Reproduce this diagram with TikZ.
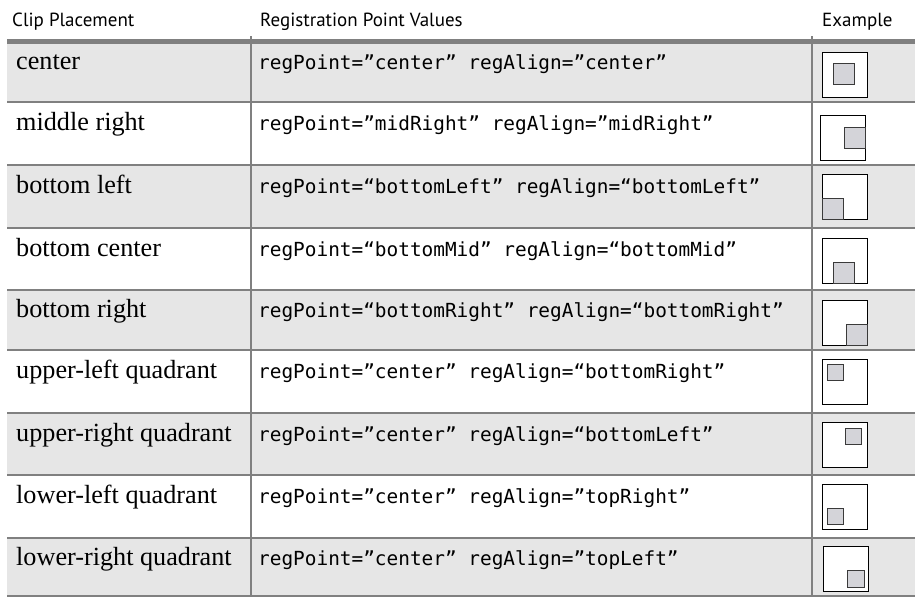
\documentclass[tikz,border=0pt]{standalone}
\usepackage{fontspec}
\newfontfamily\headfont{PT Sans}
\newfontfamily\placefont{Liberation Serif}
\newfontfamily\codefont{DejaVu Sans Mono}
\definecolor{rowgray}{HTML}{E6E6E6}
\definecolor{rulegray}{HTML}{808080}
\definecolor{innerfill}{HTML}{D4D4D9}
\definecolor{innerline}{HTML}{3A3A3A}
\tikzset{
  rowfill/.style={fill=rowgray, draw=none},
  rule/.style={draw=rulegray, line width=2pt},
  toprule/.style={draw=rulegray, line width=4.6pt},
  headtext/.style={anchor=base west, inner sep=0, font=\headfont\fontsize{19}{22}\selectfont},
  placetext/.style={anchor=base west, inner sep=0, font=\placefont\fontsize{26.2}{30}\selectfont},
  codetext/.style={anchor=base west, inner sep=0, font=\codefont\fontsize{19.4}{23}\selectfont},
  outerbox/.style={anchor=north west, draw=black, line width=1.1pt, fill=white,
    inner sep=0, minimum width=45pt, minimum height=45pt},
  innerbox/.style={anchor=north west, draw=innerline, line width=1.2pt, fill=innerfill,
    inner sep=0, minimum width=#1, minimum height=#1},
  innerbox/.default=21pt
}
\begin{document}
\begin{tikzpicture}[x=1pt, y=-1pt]
  \useasboundingbox (0,0) rectangle (915,597);

  % shaded rows
  \foreach \t/\b in {44/102, 165/228, 290/350, 413/475, 538/596}
    \fill[rowfill] (7,\t) rectangle (915,\b);

  % column titles
  \node[headtext] (h1) at (12,27) {Clip Placement};
  \node[headtext] (h2) at (260,27) {Registration Point Values};
  \node[headtext] (h3) at (822,27) {Example};

  % rules
  \draw[toprule] (7,41.6) -- (915,41.6);
  \foreach \y in {102, 165, 228, 290, 350, 413, 475, 538, 596}
    \draw[rule] (7,\y) -- (915,\y);
  \draw[rule] (251,36) -- (251,597);
  \draw[rule] (812,36) -- (812,597);

  % placement names
  \node[placetext] (p1) at (16,69)  {center};
  \node[placetext] (p2) at (16,130) {middle right};
  \node[placetext] (p3) at (16,193) {bottom left};
  \node[placetext] (p4) at (16,256) {bottom center};
  \node[placetext] (p5) at (16,317) {bottom right};
  \node[placetext] (p6) at (16,378) {upper-left quadrant};
  \node[placetext] (p7) at (16,441) {upper-right quadrant};
  \node[placetext] (p8) at (16,503) {lower-left quadrant};
  \node[placetext] (p9) at (16,565) {lower-right quadrant};

  % registration values
  \node[codetext] (c1) at (258,69)  {regPoint=”center” regAlign=”center”};
  \node[codetext] (c2) at (258,130) {regPoint=”midRight” regAlign=”midRight”};
  \node[codetext] (c3) at (258,193) {regPoint=“bottomLeft” regAlign=“bottomLeft”};
  \node[codetext] (c4) at (258,256) {regPoint=“bottomMid” regAlign=“bottomMid”};
  \node[codetext] (c5) at (258,317) {regPoint=“bottomRight” regAlign=“bottomRight”};
  \node[codetext] (c6) at (258,378) {regPoint=”center” regAlign=“bottomRight”};
  \node[codetext] (c7) at (258,441) {regPoint=”center” regAlign=“bottomLeft”};
  \node[codetext] (c8) at (258,503) {regPoint=”center” regAlign=”topRight”};
  \node[codetext] (c9) at (258,565) {regPoint=”center” regAlign=”topLeft”};

  % example frames with the placed clip
  \node[outerbox] (e1) at (822,52)  {};
  \node[innerbox] (i1) at (833,63)  {};
  \node[outerbox] (e2) at (820,115) {};
  \node[innerbox] (i2) at (844,127) {};
  \node[outerbox] (e3) at (822,174) {};
  \node[innerbox] (i3) at (822,198) {};
  \node[outerbox] (e4) at (822,238) {};
  \node[innerbox] (i4) at (833,262) {};
  \node[outerbox] (e5) at (822,300) {};
  \node[innerbox] (i5) at (846,324) {};
  \node[outerbox] (e6) at (822,359) {};
  \node[innerbox=16pt] (i6) at (827,364) {};
  \node[outerbox] (e7) at (822,422) {};
  \node[innerbox=16pt] (i7) at (845,428) {};
  \node[outerbox] (e8) at (822,484) {};
  \node[innerbox=16pt] (i8) at (827,508) {};
  \node[outerbox] (e9) at (823,546) {};
  \node[innerbox=17pt] (i9) at (847,570) {};
\end{tikzpicture}
\end{document}
